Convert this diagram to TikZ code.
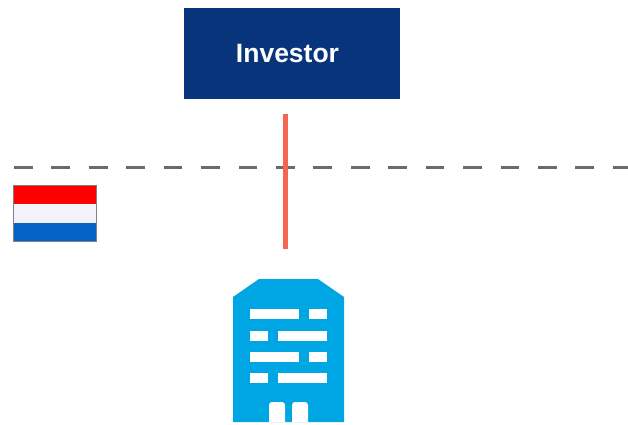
\documentclass[tikz,border=0pt]{standalone}
\usepackage{fontspec}
\usetikzlibrary{positioning}
\setmainfont{Liberation Sans}
\definecolor{navy}{HTML}{08347C}
\definecolor{salmon}{HTML}{F4664F}
\definecolor{sky}{HTML}{00A5E3}
\definecolor{flagred}{HTML}{FF0000}
\definecolor{flagwhite}{HTML}{F2F2F8}
\definecolor{flagblue}{HTML}{0563C8}
\tikzset{
  box/.style={fill=navy, text=white, font=\fontsize{26.5}{30}\selectfont\bfseries, minimum width=216pt, minimum height=91pt, inner sep=0pt},
  band/.style={minimum width=82pt, minimum height=18.2pt, inner sep=0pt},
  window/.style={fill=white}
}
\begin{document}
\begin{tikzpicture}[x=1pt,y=-1pt]
            \useasboundingbox (0,0) rectangle (628,424);
            \node [box] (Investor) at (292,53.5) {\hspace*{-9pt}Investor};
            \coordinate (Top) at (285.5,114);
            \coordinate (Bottom) at (285.5,249);
            \coordinate (Left) at (14,167);
            \coordinate (Right) at (628,167);
            % border
            \path[draw=black!58, line width=3pt, dash pattern=on 18.7pt off 18.73pt] (Left) edge (Right);
            % flag
            \node [band, fill=flagred] (Red) at (55,195.1) {};
            \node [band, fill=flagwhite, below=0pt of Red] (White) {};
            \node [band, fill=flagblue, below=0pt of White] (Blue) {};
            \draw[black!50, line width=1pt] (Red.north west) rectangle (Blue.south east);
            \path[draw=salmon, line width=5pt] (Top) edge (Bottom);
            % building
            \fill[sky] (259,279) -- (318,279) -- (344,297) -- (344,422) -- (233,422) -- (233,297) -- cycle;
            \foreach \xa/\xb/\ya/\yb in {250/299/309/319, 309/327/309/319, 250/268/331/341, 278/327/331/341, 250/299/352/362, 309/327/352/362, 250/268/373/383, 278/327/373/383}
                \fill[window] (\xa,\ya) rectangle (\xb,\yb);
            \foreach \xa/\xb in {269/285, 292/308}
                \fill[window] (\xa,422) [rounded corners=3pt] -- (\xa,402) -- (\xb,402) [sharp corners] -- (\xb,422) -- cycle;
        \end{tikzpicture}
\end{document}
